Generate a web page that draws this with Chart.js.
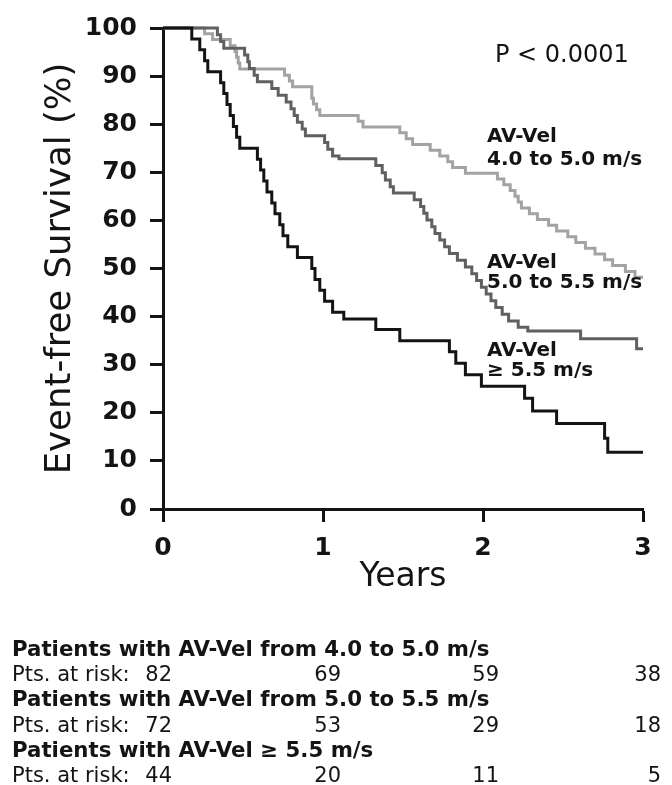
<!DOCTYPE html>
<html><head><meta charset="utf-8">
<script src="https://cdn.jsdelivr.net/npm/chart.js@4.4.1/dist/chart.umd.min.js"></script>
<style>html,body{margin:0;padding:0;background:#fff}#wrap{width:672px;height:785px;position:relative}</style>
</head><body><div id="wrap"><canvas id="c"></canvas></div>
<script>
// ---- data ----
const timesLow = [0,0.26,0.31,0.42,0.45,0.46,0.47,0.48,0.76,0.79,0.81,0.93,0.93,0.94,0.96,0.98,1.22,1.25,1.48,1.52,1.56,1.67,1.73,1.78,1.81,1.89,2.09,2.13,2.17,2.20,2.22,2.24,2.29,2.34,2.41,2.46,2.53,2.58,2.64,2.70,2.76,2.81,2.89,2.95,3.00];
const survLow  = [100,98.8,97.6,96.3,95.1,93.9,92.7,91.5,90.2,89.0,87.8,86.6,85.4,84.2,83.0,81.8,80.6,79.4,78.2,77.0,75.8,74.6,73.4,72.2,71.0,69.8,68.6,67.4,66.2,65.0,63.8,62.6,61.4,60.2,59.0,57.8,56.6,55.4,54.2,53.0,51.8,50.6,49.4,48.2,48.2];

const timesMid = [0,0.34,0.36,0.38,0.51,0.53,0.54,0.57,0.59,0.68,0.72,0.77,0.80,0.82,0.84,0.87,0.89,1.01,1.03,1.06,1.10,1.33,1.37,1.39,1.42,1.44,1.57,1.61,1.63,1.65,1.68,1.70,1.73,1.76,1.79,1.84,1.89,1.93,1.96,1.99,2.02,2.05,2.08,2.12,2.16,2.22,2.28,2.61,2.96,3.00];
const survMid  = [100,98.6,97.2,95.8,94.4,93.0,91.6,90.2,88.8,87.4,86.0,84.6,83.2,81.8,80.4,79.0,77.6,76.2,74.8,73.4,72.8,71.4,69.9,68.4,67.0,65.7,64.3,62.9,61.5,60.1,58.7,57.3,55.9,54.5,53.1,51.7,50.3,48.9,47.5,46.1,44.7,43.3,41.9,40.5,39.1,37.8,37.0,35.4,33.3,33.3];

const timesHigh = [0,0.18,0.23,0.26,0.28,0.36,0.38,0.40,0.42,0.44,0.46,0.48,0.59,0.61,0.63,0.65,0.68,0.70,0.73,0.75,0.78,0.84,0.93,0.95,0.98,1.01,1.06,1.13,1.33,1.48,1.79,1.83,1.89,1.99,2.26,2.31,2.46,2.76,2.78,3.00];
const survHigh  = [100,97.7,95.5,93.2,90.9,88.6,86.4,84.1,81.8,79.5,77.3,75.0,72.7,70.5,68.2,65.9,63.6,61.4,59.1,56.8,54.5,52.3,50.0,47.7,45.5,43.2,40.9,39.5,37.3,35.0,32.7,30.3,27.9,25.5,23.0,20.4,17.8,14.7,11.8,11.8];

const groupTitles = ['Patients with AV-Vel from 4.0 to 5.0 m/s','Patients with AV-Vel from 5.0 to 5.5 m/s','Patients with AV-Vel \u2265 5.5 m/s'];
const riskLow  = [82,69,59,38];
const riskMid  = [72,53,29,18];
const riskHigh = [44,20,11,5];
const riskLabel = 'Pts. at risk:';
const curveLabelLow  = ['AV-Vel','4.0 to 5.0 m/s'];
const curveLabelMid  = ['AV-Vel','5.0 to 5.5 m/s'];
const curveLabelHigh = ['AV-Vel','\u2265 5.5 m/s'];
const pText = 'P < 0.0001';
const xTitle = 'Years';
const yTitle = 'Event-free Survival (%)';

// ---- build ----
const pts = (t, s) => t.map((v, i) => ({x: v, y: s[i]}));
const INK = '#141414';
const FAM = "'DejaVu Sans', Verdana, sans-serif";
Chart.defaults.font.family = FAM;
Chart.defaults.color = INK;

const annotate = {
  id: 'annotate',
  afterDraw(chart) {
    const ctx = chart.ctx, xs = chart.scales.x, ys = chart.scales.y;
    ctx.save();
    ctx.fillStyle = INK;
    ctx.textAlign = 'left';
    ctx.textBaseline = 'middle';
    ctx.font = "24px " + FAM;
    ctx.fillText(pText, xs.getPixelForValue(2.075), ys.getPixelForValue(94.2));
    ctx.font = "bold 20px " + FAM;
    const labs = [[curveLabelLow, 77.3, 72.6],[curveLabelMid, 51.1, 47.0],[curveLabelHigh, 32.9, 28.8]];
    labs.forEach(([lines, y1, y2]) => {
      const x = xs.getPixelForValue(2.025);
      ctx.fillText(lines[0], x, ys.getPixelForValue(y1));
      ctx.fillText(lines[1], x, ys.getPixelForValue(y2));
    });
    const rows = [riskLow, riskMid, riskHigh];
    const cols = [172, 341, 499, 661];
    let y = 650;
    rows.forEach((r, i) => {
      ctx.textAlign = 'left';
      ctx.font = "bold 21.3px " + FAM;
      ctx.fillText(groupTitles[i], 12, y);
      y += 25.4;
      ctx.font = "21px " + FAM;
      ctx.fillText(riskLabel, 12, y);
      ctx.textAlign = 'right';
      r.forEach((v, j) => ctx.fillText(String(v), cols[j], y));
      y += 25.4;
    });
    ctx.restore();
  }
};

const axisGrid = {display: true, drawOnChartArea: false, drawTicks: true, tickLength: 13, tickWidth: 3, tickColor: INK};
const axisBorder = {display: true, color: INK, width: 3};

new Chart(document.getElementById('c'), {
  type: 'line',
  data: {
    datasets: [
      {label: '>= 5.5', data: pts(timesHigh, survHigh), borderColor: '#141414'},
      {label: '5.0-5.5', data: pts(timesMid, survMid), borderColor: '#606060'},
      {label: '4.0-5.0', data: pts(timesLow, survLow), borderColor: '#a3a3a3'}
    ].map(d => Object.assign(d, {stepped: true, borderWidth: 3, pointRadius: 0, fill: false, clip: 6, borderJoinStyle: 'miter'}))
  },
  options: {
    responsive: true, maintainAspectRatio: false, animation: false,
    layout: {padding: {top: 25, right: 29, bottom: 176, left: 0}},
    plugins: {legend: {display: false}, tooltip: {enabled: false}},
    scales: {
      x: {
        type: 'linear', min: 0, max: 3,
        ticks: {stepSize: 1, font: {size: 25, weight: 'bold'}, color: INK, padding: 11, maxRotation: 0},
        grid: axisGrid, border: axisBorder,
        title: {display: true, text: xTitle, font: {size: 33}, color: INK, padding: {top: 0, bottom: 12}},
        afterFit: s => { s.height = 100; }
      },
      y: {
        min: 0, max: 100,
        ticks: {stepSize: 10, font: {size: 25, weight: 'bold'}, color: INK, padding: 13},
        grid: axisGrid, border: axisBorder,
        title: {display: true, text: yTitle, font: {size: 35.5}, color: INK, padding: {top: 39, bottom: 0}},
        afterFit: s => { s.width = 163; }
      }
    }
  },
  plugins: [annotate]
});
</script>
</body></html>
